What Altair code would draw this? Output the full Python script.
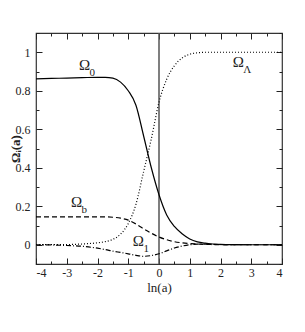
import altair as alt
import pandas as pd

# ---------------- data ----------------
ln_a = [-4, -3.5, -3, -2.5, -2, -1.75, -1.5, -1.25, -1.0, -0.75, -0.5, -0.25, 0,
        0.25, 0.5, 0.75, 1.0, 1.25, 1.5, 1.75, 2, 2.5, 3, 3.5, 4]
omega_0 = [0.862, 0.864, 0.866, 0.868, 0.870, 0.870, 0.866, 0.845, 0.80, 0.725, 0.565,
           0.40, 0.26, 0.155, 0.095, 0.057, 0.03, 0.015, 0.008, 0.004, 0.002, 0.0005, 0, 0, 0]
omega_L = [0.0, 0.0005, 0.001, 0.004, 0.01, 0.016, 0.028, 0.055, 0.11, 0.21, 0.38,
           0.55, 0.74, 0.86, 0.93, 0.97, 0.99, 0.997, 1.0, 1.0, 1.0, 1.0, 1.0, 1.0, 1.0]
omega_b = [0.145, 0.145, 0.145, 0.145, 0.145, 0.145, 0.143, 0.138, 0.128, 0.108, 0.083,
           0.06, 0.04, 0.026, 0.016, 0.01, 0.006, 0.004, 0.002, 0.001, 0.0005, 0, 0, 0, 0]
omega_1 = [0.0, -0.001, -0.004, -0.008, -0.018, -0.025, -0.033, -0.04, -0.047, -0.055, -0.06,
           -0.056, -0.047, -0.032, -0.017, -0.007, 0.0, 0.003, 0.003, 0.002, 0.001, 0, 0, 0, 0]

vline_x = [0]

x_major = [-4, -3, -2, -1, 0, 1, 2, 3, 4]
x_minor = [-3.5, -2.5, -1.5, -0.5, 0.5, 1.5, 2.5, 3.5]
y_major = [0, 0.2, 0.4, 0.6, 0.8, 1]
y_minor = [-0.1, 0.1, 0.3, 0.5, 0.7, 0.9, 1.1]

label_main = ["Ω", "Ω", "Ω", "Ω"]
label_sub = ["0", "Λ", "b", "1"]
label_x = [-2.42, 2.58, -2.68, -0.67]
label_y = [0.935, 0.95, 0.22, 0.02]

# ---------------- chart ----------------
W, H = 246, 231
FONT = "Liberation Serif"
INK = "#222222"
XD = [-4, 4]
YD = [-0.1, 1.1]


def xs(axis):
    return alt.X("x:Q", scale=alt.Scale(domain=XD, nice=False, zero=False), axis=axis)


def ys(axis):
    return alt.Y("y:Q", scale=alt.Scale(domain=YD, nice=False, zero=False), axis=axis)


def tick_axis(orient, values, size, offset):
    return alt.Axis(orient=orient, values=values, tickSize=size, offset=offset,
                    labels=False, domain=False, grid=False, title=None,
                    tickColor=INK, tickWidth=1)


x_label_axis = alt.Axis(orient="bottom", values=x_major, ticks=False, domain=False, grid=False,
                        labelExpr="'' + datum.value", labelPadding=3, labelFont=FONT,
                        labelFontSize=12, labelColor=INK, title="ln(a)", titleFont=FONT,
                        titleFontSize=13, titleFontWeight="normal", titleColor=INK,
                        titlePadding=3)
y_label_axis = alt.Axis(orient="left", values=y_major, ticks=False, domain=False, grid=False,
                        labelExpr="'' + datum.value", labelPadding=6, labelFont=FONT,
                        labelFontSize=12, labelColor=INK, title="Ωᵢ(a)", titleFont=FONT,
                        titleFontSize=13, titleFontWeight="bold", titleColor=INK,
                        titleX=-21, titleY=H / 2, titleAngle=270, titleBaseline="middle",
                        titleAlign="center")


def curve_df(vals):
    return pd.DataFrame({"x": ln_a, "y": vals})


vline = alt.Chart(pd.DataFrame({"x": vline_x})).mark_rule(
    color="#555555", strokeWidth=1.5).encode(x=xs(x_label_axis))
yaxis_carrier = alt.Chart(pd.DataFrame({"x": vline_x, "y": [0]})).mark_point(opacity=0).encode(
    x=xs(None), y=ys(y_label_axis))

l0 = alt.Chart(curve_df(omega_0)).mark_line(color="black", strokeWidth=1.2, interpolate="monotone").encode(
    x=xs(tick_axis("top", x_major, 6, -H)), y=ys(tick_axis("right", y_major, 6, -W)))
lL = alt.Chart(curve_df(omega_L)).mark_line(color="black", strokeWidth=1.2, strokeDash=[1, 2],
                                            interpolate="monotone").encode(
    x=xs(tick_axis("top", x_minor, 3, -H)), y=ys(tick_axis("right", y_minor, 3, -W)))
lb = alt.Chart(curve_df(omega_b)).mark_line(color="black", strokeWidth=1.2, strokeDash=[5, 3],
                                            interpolate="monotone").encode(
    x=xs(tick_axis("bottom", x_major, 6, -H)), y=ys(tick_axis("left", y_major, 6, -W)))
l1 = alt.Chart(curve_df(omega_1)).mark_line(color="black", strokeWidth=1.2, strokeDash=[5, 2, 1, 2],
                                            interpolate="monotone").encode(
    x=xs(tick_axis("bottom", x_minor, 3, -H)), y=ys(tick_axis("left", y_minor, 3, -W)))

lab_df = pd.DataFrame({"x": label_x, "y": label_y, "main": label_main, "sub": label_sub})
lab_main = alt.Chart(lab_df).mark_text(font=FONT, fontSize=15, color=INK, align="center",
                                       baseline="middle").encode(
    x=xs(None), y=ys(None), text="main:N")
lab_sub = alt.Chart(lab_df).mark_text(font=FONT, fontSize=11, color=INK, align="left",
                                      baseline="middle", dx=5, dy=8).encode(
    x=xs(None), y=ys(None), text="sub:N")

chart = alt.layer(vline, yaxis_carrier, l0, lL, lb, l1, lab_main, lab_sub).resolve_axis(
    x="independent", y="independent"
).properties(
    width=W, height=H,
    autosize=alt.AutoSizeParams(type="none"),
    padding={"left": 28, "top": 25, "right": 12, "bottom": 40},
).configure_view(stroke="#333333", strokeWidth=1.2)

chart.save("out.html", embed_options={"renderer": "svg", "actions": False})
